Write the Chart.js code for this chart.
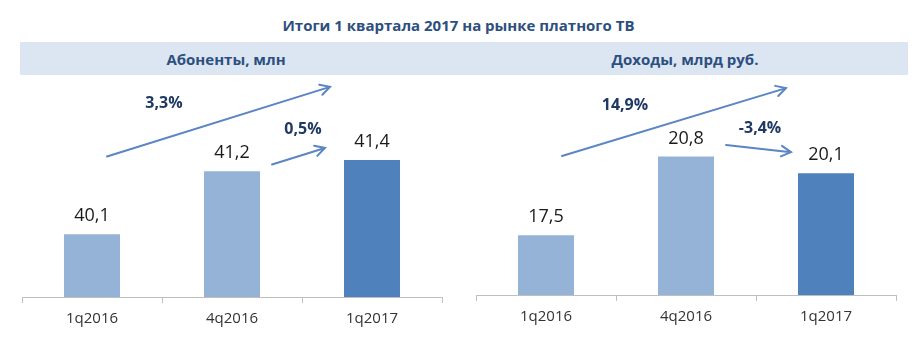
<!DOCTYPE html>
<html lang="ru">
<head>
<meta charset="utf-8">
<title>Итоги 1 квартала 2017 на рынке платного ТВ</title>
<script src="https://cdn.jsdelivr.net/npm/chart.js@4.4.1/dist/chart.umd.min.js"></script>
<style>
    html, body {
        margin: 0;
        padding: 0;
        background: #fff;
    }
    body {
        position: relative;
        width: 917px;
        height: 344px;
        overflow: hidden;
        font-family: "Open Sans", sans-serif;
    }
    .title {
        position: absolute;
        left: 0;
        top: 15px;
        width: 917px;
        text-align: center;
        font-size: 15px;
        font-weight: bold;
        color: #2d4f80;
    }
    .band {
        position: absolute;
        left: 20px;
        top: 42px;
        width: 888px;
        height: 33px;
        background: #dce6f2;
    }
    .band span {
        position: absolute;
        top: 7px;
        font-size: 15px;
        font-weight: bold;
        color: #2d4f80;
        transform: translateX(-50%);
        white-space: nowrap;
    }
    .panel {
        position: absolute;
        top: 76px;
        height: 268px;
    }
</style>
</head>
<body>
<div class="title">Итоги 1 квартала 2017 на рынке платного ТВ</div>
<div class="band">
    <span style="left: 206px;">Абоненты, млн</span>
    <span style="left: 665px;">Доходы, млрд руб.</span>
</div>
<div class="panel" style="left: 0; width: 458px;"><canvas id="subscribersChart"></canvas></div>
<div class="panel" style="left: 458px; width: 459px;"><canvas id="revenueChart"></canvas></div>

<script>
const periods = ['1q2016', '4q2016', '1q2017'];
const subscribers = [40.1, 41.2, 41.4];
const revenue = [17.5, 20.8, 20.1];
const subscriberGrowth = ['3,3%', '0,5%'];
const revenueGrowth = ['14,9%', '-3,4%'];

const LIGHT_BAR = '#95b3d7';
const DARK_BAR = '#4f81bd';
const ARROW_COLOR = '#5b85c3';

// value labels above bars + growth arrows, both placed through the chart scales
const barAnnotations = {
    id: 'barAnnotations',
    afterDatasetsDraw(chart, args, opts) {
        const ctx = chart.ctx;
        const xs = chart.scales.x;
        const ys = chart.scales.y;

        ctx.save();
        ctx.font = '18px "Open Sans"';
        ctx.fillStyle = '#1a1a1a';
        ctx.textAlign = 'center';
        ctx.textBaseline = 'middle';
        chart.getDatasetMeta(0).data.forEach((bar, i) => {
            const value = chart.data.datasets[0].data[i];
            ctx.fillText(String(value).replace('.', ','), bar.x, bar.y - 18);
        });

        opts.arrows.forEach(a => {
            const x1 = xs.getPixelForValue(a.from[0]);
            const y1 = ys.getPixelForValue(a.from[1]);
            const x2 = xs.getPixelForValue(a.to[0]);
            const y2 = ys.getPixelForValue(a.to[1]);
            const ang = Math.atan2(y2 - y1, x2 - x1);
            const head = 11;

            ctx.strokeStyle = ARROW_COLOR;
            ctx.lineWidth = 2;
            ctx.lineCap = 'round';
            ctx.beginPath();
            ctx.moveTo(x1, y1);
            ctx.lineTo(x2, y2);
            ctx.moveTo(x2 - head * Math.cos(ang - 0.5), y2 - head * Math.sin(ang - 0.5));
            ctx.lineTo(x2, y2);
            ctx.lineTo(x2 - head * Math.cos(ang + 0.5), y2 - head * Math.sin(ang + 0.5));
            ctx.stroke();

            ctx.font = 'bold 16px "Open Sans"';
            ctx.fillStyle = '#1f3864';
            ctx.fillText(a.text, xs.getPixelForValue(a.at[0]), ys.getPixelForValue(a.at[1]));
        });
        ctx.restore();
    }
};

function makeBarChart(canvasId, values, yMin, yMax, padding, axisHeight, arrows) {
    const ctx = document.getElementById(canvasId).getContext('2d');
    return new Chart(ctx, {
        type: 'bar',
        data: {
            labels: periods,
            datasets: [{
                data: values,
                backgroundColor: [LIGHT_BAR, LIGHT_BAR, DARK_BAR],
                barPercentage: 0.4,
                categoryPercentage: 1
            }]
        },
        options: {
            responsive: true,
            maintainAspectRatio: false,
            animation: false,
            layout: {
                padding: padding
            },
            plugins: {
                legend: { display: false },
                tooltip: { enabled: false },
                barAnnotations: { arrows: arrows }
            },
            scales: {
                x: {
                    grid: {
                        display: true,
                        drawOnChartArea: false,
                        tickLength: 6,
                        color: '#bfbfbf'
                    },
                    border: {
                        color: '#bfbfbf'
                    },
                    ticks: {
                        padding: 7,
                        color: '#333',
                        font: { family: '"Open Sans"', size: 15 }
                    },
                    afterFit: scale => {
                        scale.height = axisHeight;
                    }
                },
                y: {
                    display: false,
                    min: yMin,
                    max: yMax
                }
            }
        },
        plugins: [barAnnotations]
    });
}

makeBarChart('subscribersChart', subscribers, 39, 42.8,
    { top: 4, left: 22, right: 16, bottom: 0 }, 47, [
        { from: [0.107, 41.46], to: [1.70, 42.68], at: [0.514, 42.39], text: subscriberGrowth[0] },
        { from: [1.286, 41.32], to: [1.664, 41.61], at: [1.507, 41.93], text: subscriberGrowth[1] }
    ]);

makeBarChart('revenueChart', revenue, 15, 24,
    { top: 4, left: 18, right: 21, bottom: 0 }, 49, [
        { from: [0.114, 20.82], to: [1.714, 23.66], at: [0.564, 22.95], text: revenueGrowth[0] },
        { from: [1.286, 21.28], to: [1.75, 20.98], at: [1.529, 21.99], text: revenueGrowth[1] }
    ]);
</script>
</body>
</html>
